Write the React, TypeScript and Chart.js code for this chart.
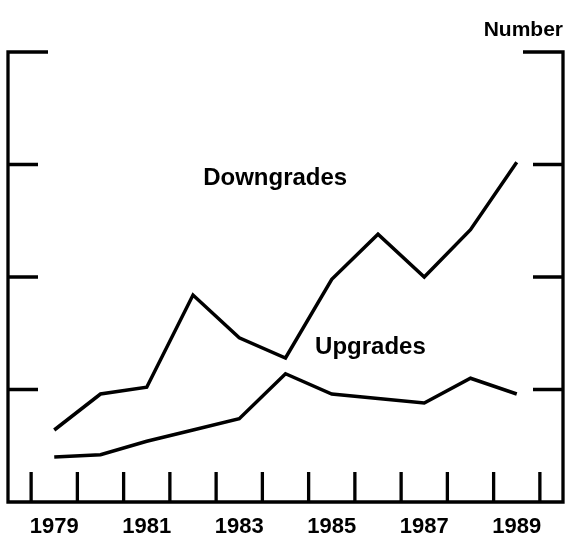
import React, { useEffect, useRef } from "react";
import { Chart, registerables } from "chart.js";

Chart.register(...registerables);

// ---- data ----
const years = [1979, 1980, 1981, 1982, 1983, 1984, 1985, 1986, 1987, 1988, 1989];
const downgrades = [32, 48, 51, 92, 73, 64, 99, 119, 100, 121, 151];
const upgrades = [20, 21, 27, 32, 37, 57, 48, 46, 44, 55, 48];

// axis decorations
const yTickValues = [50, 100, 150];
const xTickBoundaries = [1978.5, 1979.5, 1980.5, 1981.5, 1982.5, 1983.5, 1984.5, 1985.5, 1986.5, 1987.5, 1988.5, 1989.5];
const xLabelYears = [1979, 1981, 1983, 1985, 1987, 1989];
const unitLabel = "Number";
const seriesLabels = [
  { text: "Downgrades", x: 1982.22, y: 140.9 },
  { text: "Upgrades", x: 1984.64, y: 65.8 },
];

const FONT = '"Liberation Sans", Arial, Helvetica, sans-serif';

const framePlugin = {
  id: "frameDecor",
  afterDraw(chart: any) {
    const { ctx, chartArea: a, scales } = chart;
    const x = scales.x;
    const y = scales.y;
    ctx.save();
    ctx.strokeStyle = "#000";
    ctx.fillStyle = "#000";
    ctx.lineWidth = 3.3;
    ctx.lineJoin = "miter";
    ctx.lineCap = "butt";

    // frame
    ctx.beginPath();
    ctx.moveTo(a.left + 40, a.top);
    ctx.lineTo(a.left, a.top);
    ctx.lineTo(a.left, a.bottom);
    ctx.lineTo(a.right, a.bottom);
    ctx.lineTo(a.right, a.top);
    ctx.lineTo(a.right - 40, a.top);
    ctx.stroke();

    // y tick marks (inward, both sides)
    ctx.beginPath();
    for (const v of yTickValues) {
      const py = y.getPixelForValue(v);
      ctx.moveTo(a.left, py);
      ctx.lineTo(a.left + 30, py);
      ctx.moveTo(a.right - 30, py);
      ctx.lineTo(a.right, py);
    }
    // x tick marks (inward from bottom)
    for (const b of xTickBoundaries) {
      const px = x.getPixelForValue(b);
      ctx.moveTo(px, a.bottom);
      ctx.lineTo(px, a.bottom - 30);
    }
    ctx.stroke();

    // x labels
    ctx.font = `bold 22px ${FONT}`;
    ctx.textAlign = "center";
    ctx.textBaseline = "alphabetic";
    for (const yr of xLabelYears) {
      ctx.fillText(String(yr), x.getPixelForValue(yr), a.bottom + 31);
    }

    // unit label
    ctx.font = `bold 21px ${FONT}`;
    ctx.textAlign = "right";
    ctx.fillText(unitLabel, a.right, a.top - 16);

    // series labels
    ctx.font = `bold 24px ${FONT}`;
    ctx.textAlign = "left";
    for (const s of seriesLabels) {
      ctx.fillText(s.text, x.getPixelForValue(s.x), y.getPixelForValue(s.y));
    }
    ctx.restore();
  },
};

export default function App() {
  const ref = useRef<HTMLCanvasElement | null>(null);
  useEffect(() => {
    if (!ref.current) return;
    const chart = new Chart(ref.current, {
      type: "line",
      data: {
        datasets: [
          {
            label: "Downgrades",
            data: years.map((yr, i) => ({ x: yr, y: downgrades[i] })),
            borderColor: "#000",
            borderWidth: 3.5,
            pointRadius: 0,
            tension: 0,
            fill: false,
          },
          {
            label: "Upgrades",
            data: years.map((yr, i) => ({ x: yr, y: upgrades[i] })),
            borderColor: "#000",
            borderWidth: 3.5,
            pointRadius: 0,
            tension: 0,
            fill: false,
          },
        ],
      },
      options: {
        responsive: false,
        animation: false,
        layout: { padding: { left: 8, right: 3, top: 52, bottom: 36 } },
        plugins: { legend: { display: false }, tooltip: { enabled: false } },
        scales: {
          x: { type: "linear", min: 1978, max: 1990, display: false },
          y: { type: "linear", min: 0, max: 200, display: false },
        },
      },
      plugins: [framePlugin],
    });
    return () => chart.destroy();
  }, []);
  return (
    <div style={{ position: "absolute", left: 0, top: 0, width: 566, height: 538, background: "#fff" }}>
      <canvas ref={ref} width={566} height={538} style={{ display: "block" }} />
    </div>
  );
}
